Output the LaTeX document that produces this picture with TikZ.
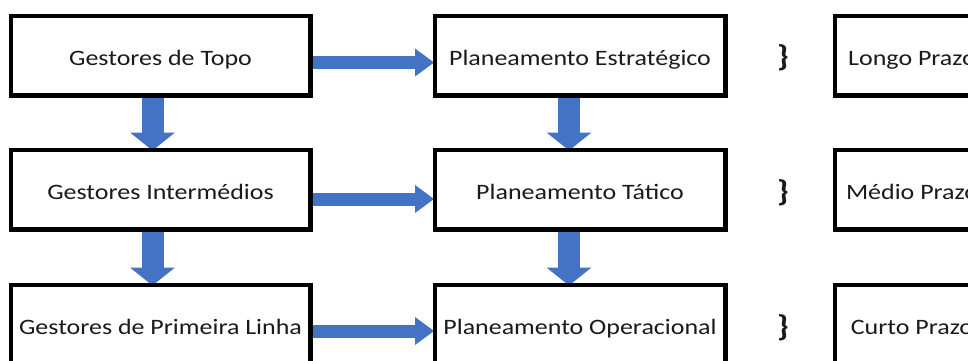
\documentclass[tikz,border=0pt]{standalone}
\usepackage{fontspec}
\setmainfont{Carlito}[FakeStretch=1.18]
\usetikzlibrary{arrows.meta,calc}
\definecolor{flowblue}{HTML}{4472C4}
\definecolor{ink}{HTML}{1A1A1A}
\begin{document}
\begin{tikzpicture}[x=1pt,y=-1pt,
  box/.style={draw=black,line width=3pt,fill=white,minimum height=78pt,
    inner sep=0pt,text=ink,text height=20pt,text depth=1pt,
    font=\fontsize{22}{26}\selectfont},
  leftbox/.style={box,minimum width=298pt},
  midbox/.style={box,minimum width=289pt},
  termbox/.style={box,minimum width=153pt},
  across/.style={draw=flowblue,line width=13pt,
    -{Triangle[length=19pt,width=28pt,line width=0pt]}},
  downward/.style={draw=flowblue,line width=22pt,
    -{Triangle[length=18pt,width=45pt,line width=0pt]}},
  brace/.style={text=ink,inner sep=0pt,font=\fontsize{30}{34}\selectfont\bfseries}]
\useasboundingbox (0,0) rectangle (968,360);
\begin{scope}
\clip (0,0) rectangle (968,360);

% hierarchy of managers
\node[leftbox] (topo)  at (160.5,55.5)  {Gestores de Topo};
\node[leftbox] (inter) at (160.5,189.5) {Gestores Intermédios};
\node[leftbox] (linha) at (160.5,324.5) {Gestores de Primeira Linha};

% planning levels
\node[midbox] (estr) at (580,55.5)  {Planeamento Estratégico};
\node[midbox] (tat)  at (580,189.5) {Planeamento Tático};
\node[midbox] (oper) at (580,324.5) {Planeamento Operacional};

% time horizons
\node[termbox] (longo) at (912,55.5)  {Longo Prazo};
\node[termbox] (medio) at (912,189.5) {Médio Prazo};
\node[termbox] (curto) at (912,324.5) {Curto Prazo};

% braces
\node[brace] (b1) at (783,57.5)  {\}};
\node[brace] (b2) at (783,192.5) {\}};
\node[brace] (b3) at (783,327.5) {\}};

% block arrows
\draw[across] ($(topo.east)+(-1,7)$)   -- ($(estr.west)+(0,7)$);
\draw[across] ($(inter.east)+(-1,9.5)$) -- ($(tat.west)+(0,9.5)$);
\draw[across] ($(linha.east)+(-1,6.5)$) -- ($(oper.west)+(0,6.5)$);
\draw[downward] ($(topo.south)+(-8,0)$)  -- ($(inter.north)+(-8,1.5)$);
\draw[downward] ($(inter.south)+(-8,0)$) -- ($(linha.north)+(-8,1.5)$);
\draw[downward] ($(estr.south)+(-11,0)$) -- ($(tat.north)+(-11,1.5)$);
\draw[downward] ($(tat.south)+(-11,0)$)  -- ($(oper.north)+(-11,1.5)$);

% box outlines on top of the arrow ends
\foreach \n in {topo,inter,linha,estr,tat,oper,longo,medio,curto}{
  \draw[line width=3pt] (\n.north west) rectangle (\n.south east);
}
\end{scope}
\end{tikzpicture}
\end{document}
